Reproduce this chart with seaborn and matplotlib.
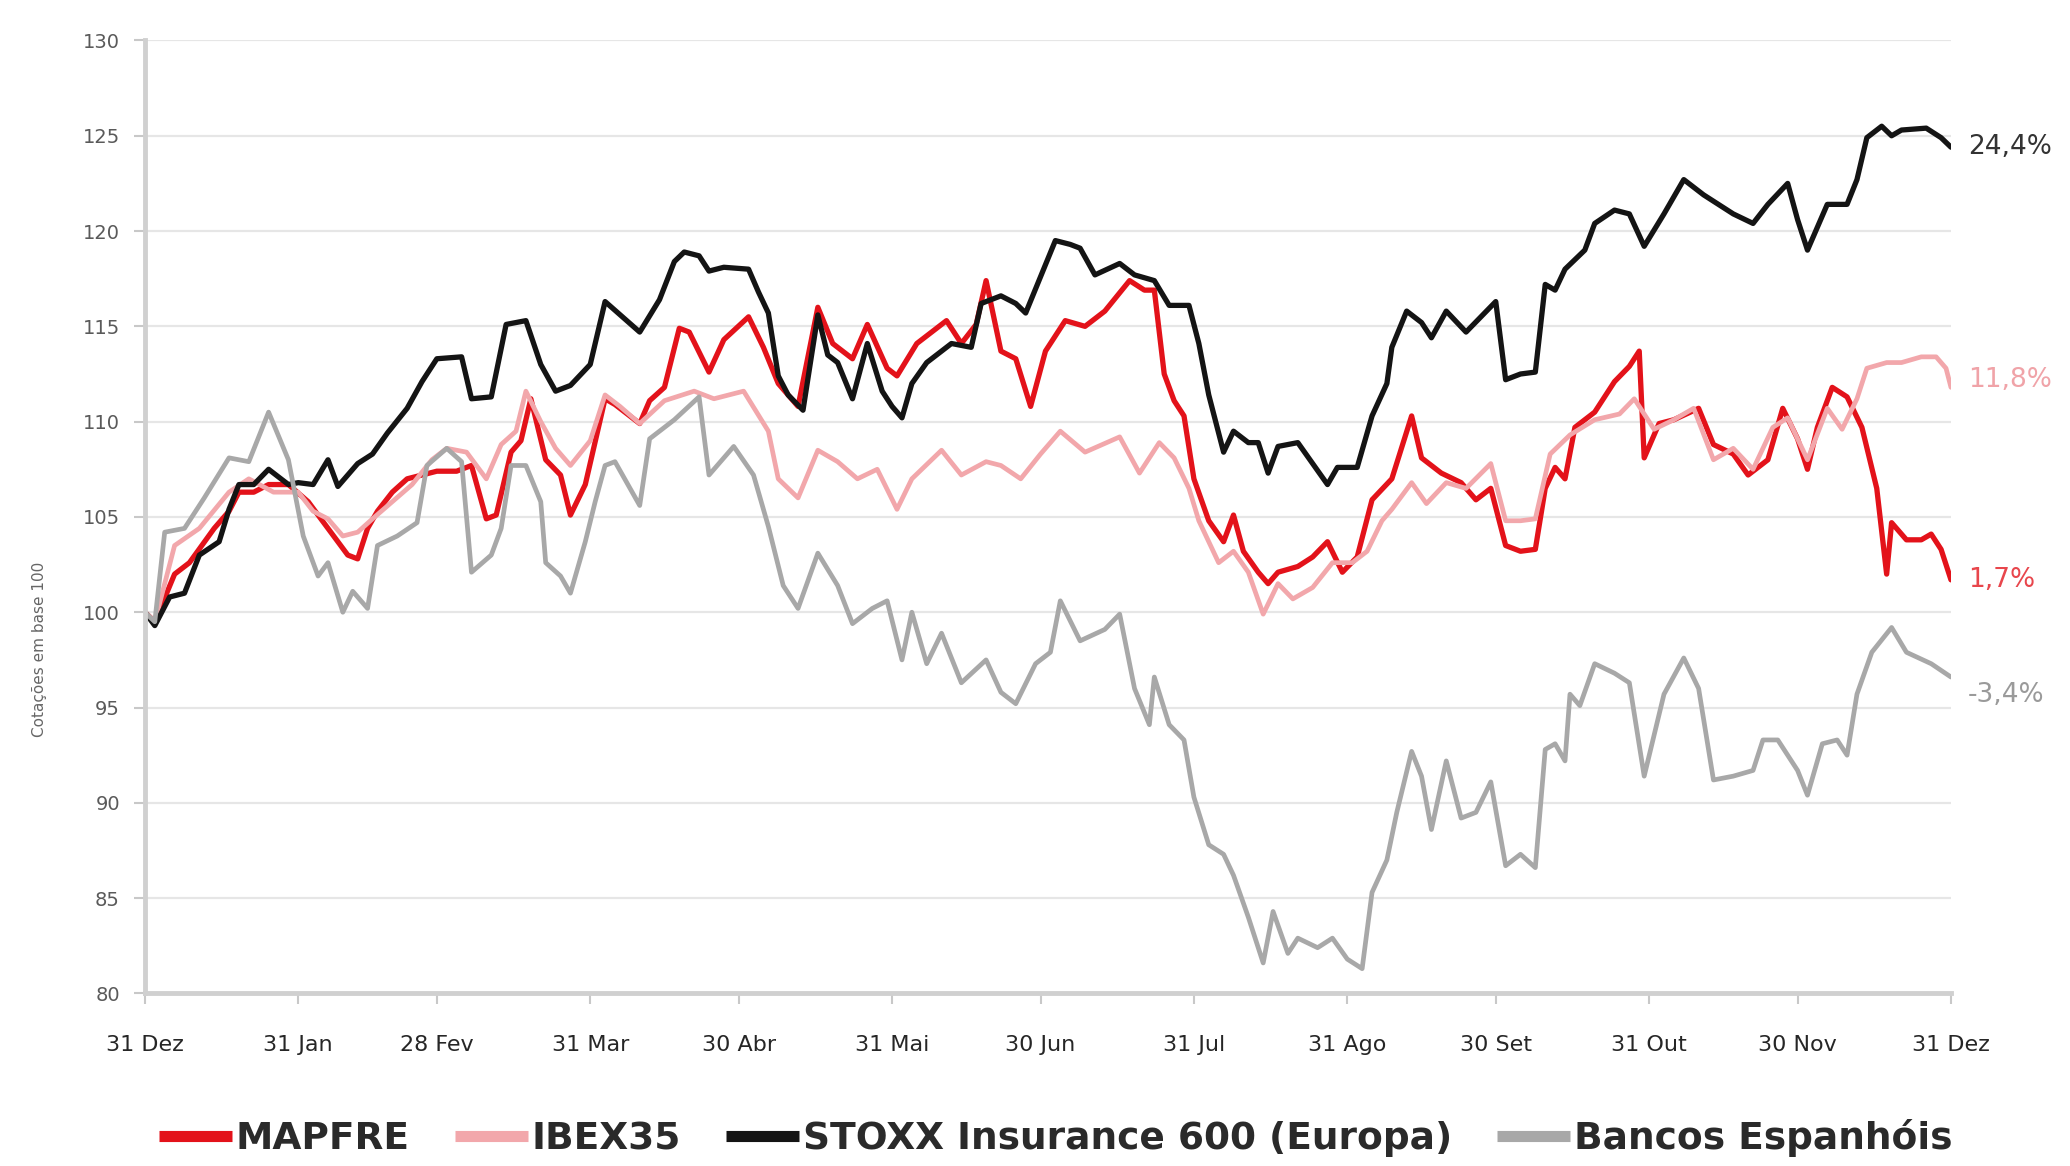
import pandas as pd
import numpy as np
import matplotlib
matplotlib.use("Agg")
import matplotlib.pyplot as plt
import seaborn as sns

# days after 31 Dec 2018, values in base 100
mapfre_days = [0, 2, 6, 9, 14, 17, 19, 22, 25, 29,
               33, 37, 41, 43, 45, 47, 50, 53, 56, 59,
               63, 66, 69, 71, 74, 76, 78, 81, 84, 86,
               89, 93, 95, 100, 102, 105, 108, 110, 114, 117,
               122, 125, 128, 132, 136, 139, 143, 146, 150, 152,
               156, 159, 162, 165, 168, 170, 173, 176, 179, 182,
               186, 190, 194, 199, 202, 204, 206, 208, 210, 212,
               215, 218, 220, 222, 225, 227, 229, 233, 236, 239,
               242, 245, 248, 252, 256, 258, 262, 266, 269, 272,
               275, 278, 281, 283, 285, 287, 289, 293, 297, 300,
               302, 303, 306, 309, 314, 317, 321, 324, 328, 331,
               334, 336, 338, 341, 344, 347, 350, 352, 353, 356,
               359, 361, 363, 365]
mapfre_vals = [100, 99.5, 102, 102.6, 104.4, 105.3, 106.3, 106.3, 106.7, 106.7,
               105.8, 104.4, 103, 102.8, 104.4, 105.3, 106.3, 107, 107.2, 107.4,
               107.4, 107.7, 104.9, 105.1, 108.4, 109, 111.2, 108, 107.2, 105.1,
               106.7, 111.2, 110.9, 109.9, 111.1, 111.8, 114.9, 114.7, 112.6, 114.3,
               115.5, 113.9, 112, 110.8, 116, 114.1, 113.3, 115.1, 112.8, 112.4,
               114.1, 114.7, 115.3, 114.1, 115.1, 117.4, 113.7, 113.3, 110.8, 113.7,
               115.3, 115, 115.8, 117.4, 116.9, 116.9, 112.5, 111.1, 110.3, 107,
               104.8, 103.7, 105.1, 103.2, 102.1, 101.5, 102.1, 102.4, 102.9, 103.7,
               102.1, 102.9, 105.9, 107, 110.3, 108.1, 107.3, 106.8, 105.9, 106.5,
               103.5, 103.2, 103.3, 106.5, 107.6, 107, 109.7, 110.5, 112.1, 112.9,
               113.7, 108.1, 109.9, 110.1, 110.7, 108.8, 108.3, 107.2, 108, 110.7,
               109.1, 107.5, 109.7, 111.8, 111.3, 109.7, 106.5, 102, 104.7, 103.8,
               103.8, 104.1, 103.3, 101.7]

ibex_days = [0, 2, 6, 11, 17, 21, 26, 31, 34, 37,
             40, 43, 46, 50, 54, 58, 61, 65, 69, 72,
             75, 77, 80, 83, 86, 90, 93, 96, 100, 105,
             111, 115, 121, 126, 128, 132, 136, 140, 144, 148,
             152, 155, 161, 165, 170, 173, 177, 181, 185, 190,
             197, 201, 205, 208, 211, 213, 217, 220, 223, 226,
             229, 232, 236, 240, 244, 247, 250, 252, 256, 259,
             263, 267, 272, 275, 278, 281, 284, 288, 293, 298,
             301, 305, 309, 313, 317, 321, 325, 329, 332, 336,
             340, 343, 346, 348, 352, 355, 359, 362, 364, 365]
ibex_vals = [100, 99.5, 103.5, 104.4, 106.3, 107, 106.3, 106.3, 105.3, 104.9,
             104, 104.2, 104.9, 105.8, 106.7, 108, 108.6, 108.4, 107, 108.8,
             109.5, 111.6, 110, 108.6, 107.7, 109, 111.4, 110.8, 109.9, 111.1,
             111.6, 111.2, 111.6, 109.5, 107, 106, 108.5, 107.9, 107, 107.5,
             105.4, 107, 108.5, 107.2, 107.9, 107.7, 107, 108.3, 109.5, 108.4,
             109.2, 107.3, 108.9, 108.1, 106.5, 104.8, 102.6, 103.2, 102.1, 99.9,
             101.5, 100.7, 101.3, 102.6, 102.6, 103.2, 104.8, 105.4, 106.8, 105.7,
             106.8, 106.5, 107.8, 104.8, 104.8, 104.9, 108.3, 109.3, 110.1, 110.4,
             111.2, 109.6, 110.1, 110.7, 108, 108.6, 107.5, 109.7, 110.2, 108,
             110.7, 109.6, 111.2, 112.8, 113.1, 113.1, 113.4, 113.4, 112.8, 111.8]

stoxx_days = [0, 2, 5, 8, 11, 15, 17, 19, 22, 25,
              29, 31, 34, 37, 39, 43, 46, 49, 53, 56,
              59, 64, 66, 70, 73, 77, 80, 83, 86, 90,
              93, 100, 104, 107, 109, 112, 114, 117, 122, 124,
              126, 128, 130, 133, 136, 138, 140, 143, 146, 149,
              151, 153, 155, 158, 161, 163, 167, 169, 173, 176,
              178, 181, 184, 187, 189, 192, 197, 200, 204, 207,
              211, 213, 215, 218, 220, 223, 225, 227, 229, 233,
              236, 239, 241, 245, 248, 251, 252, 255, 258, 260,
              263, 267, 270, 273, 275, 278, 281, 283, 285, 287,
              291, 293, 297, 300, 303, 307, 311, 315, 318, 321,
              325, 328, 332, 334, 336, 340, 344, 346, 348, 351,
              353, 355, 360, 363, 365]
stoxx_vals = [100, 99.3, 100.8, 101, 103, 103.7, 105.4, 106.7, 106.7, 107.5,
              106.7, 106.8, 106.7, 108, 106.6, 107.8, 108.3, 109.4, 110.7, 112.1,
              113.3, 113.4, 111.2, 111.3, 115.1, 115.3, 113, 111.6, 111.9, 113,
              116.3, 114.7, 116.4, 118.4, 118.9, 118.7, 117.9, 118.1, 118, 116.8,
              115.7, 112.4, 111.4, 110.6, 115.6, 113.5, 113.1, 111.2, 114.1, 111.6,
              110.8, 110.2, 112, 113.1, 113.7, 114.1, 113.9, 116.2, 116.6, 116.2,
              115.7, 117.6, 119.5, 119.3, 119.1, 117.7, 118.3, 117.7, 117.4, 116.1,
              116.1, 114.1, 111.4, 108.4, 109.5, 108.9, 108.9, 107.3, 108.7, 108.9,
              107.8, 106.7, 107.6, 107.6, 110.3, 112, 113.9, 115.8, 115.2, 114.4,
              115.8, 114.7, 115.5, 116.3, 112.2, 112.5, 112.6, 117.2, 116.9, 118,
              119, 120.4, 121.1, 120.9, 119.2, 120.9, 122.7, 121.9, 121.4, 120.9,
              120.4, 121.4, 122.5, 120.6, 119, 121.4, 121.4, 122.7, 124.9, 125.5,
              125, 125.3, 125.4, 124.9, 124.4]

bancos_days = [0, 2, 4, 8, 12, 17, 21, 25, 29, 32,
               35, 37, 40, 42, 45, 47, 51, 55, 57, 61,
               64, 66, 70, 72, 74, 77, 80, 81, 84, 86,
               89, 91, 93, 95, 100, 102, 107, 112, 114, 119,
               123, 126, 129, 132, 136, 140, 143, 147, 150, 153,
               155, 158, 161, 165, 170, 173, 176, 180, 183, 185,
               189, 194, 197, 200, 203, 204, 207, 210, 212, 215,
               218, 220, 223, 226, 228, 231, 233, 237, 240, 243,
               246, 248, 251, 253, 256, 258, 260, 263, 266, 269,
               272, 275, 278, 281, 283, 285, 287, 288, 290, 293,
               297, 300, 303, 307, 311, 314, 317, 321, 325, 327,
               330, 334, 336, 339, 342, 344, 346, 349, 353, 356,
               361, 365]
bancos_vals = [100, 99.5, 104.2, 104.4, 106, 108.1, 107.9, 110.5, 108, 104,
               101.9, 102.6, 100, 101.1, 100.2, 103.5, 104, 104.7, 107.7, 108.6,
               107.9, 102.1, 103, 104.4, 107.7, 107.7, 105.8, 102.6, 101.9, 101,
               103.7, 105.8, 107.7, 107.9, 105.6, 109.1, 110.1, 111.3, 107.2, 108.7,
               107.2, 104.5, 101.4, 100.2, 103.1, 101.4, 99.4, 100.2, 100.6, 97.5,
               100, 97.3, 98.9, 96.3, 97.5, 95.8, 95.2, 97.3, 97.9, 100.6,
               98.5, 99.1, 99.9, 96, 94.1, 96.6, 94.1, 93.3, 90.3, 87.8,
               87.3, 86.2, 84, 81.6, 84.3, 82.1, 82.9, 82.4, 82.9, 81.8,
               81.3, 85.3, 87, 89.5, 92.7, 91.4, 88.6, 92.2, 89.2, 89.5,
               91.1, 86.7, 87.3, 86.6, 92.8, 93.1, 92.2, 95.7, 95.1, 97.3,
               96.8, 96.3, 91.4, 95.7, 97.6, 96, 91.2, 91.4, 91.7, 93.3,
               93.3, 91.7, 90.4, 93.1, 93.3, 92.5, 95.7, 97.9, 99.2, 97.9,
               97.3, 96.6]

series_names = ["MAPFRE", "IBEX35", "STOXX Insurance 600 (Europa)", "Bancos Espanhóis"]
line_colors = ["#e3121a", "#f2a7ab", "#141414", "#a8a8a8"]
line_widths = [3.8, 3.4, 3.8, 3.4]
end_label_colors = ["#e8464c", "#f0a3a8", "#333333", "#9a9a9a"]
tick_labels = ["31 Dez", "31 Jan", "28 Fev", "31 Mar", "30 Abr", "31 Mai", "30 Jun",
               "31 Jul", "31 Ago", "30 Set", "31 Out", "30 Nov", "31 Dez"]

start = pd.Timestamp("2018-12-31")
all_days = [mapfre_days, ibex_days, stoxx_days, bancos_days]
all_vals = [mapfre_vals, ibex_vals, stoxx_vals, bancos_vals]

sns.set_theme(style="white")
plt.rcParams["font.family"] = ["DejaVu Sans"]

fig = plt.figure(figsize=(20.7, 11.66), dpi=100)
ax = fig.add_axes([0.070, 0.148, 0.8725, 0.8173])

for name, days, vals, col, lw in zip(series_names, all_days, all_vals,
                                     line_colors, line_widths):
    df = pd.DataFrame({"date": start + pd.to_timedelta(days, unit="D"), "value": vals})
    sns.lineplot(data=df, x="date", y="value", color=col, linewidth=lw,
                 label=name, estimator=None, ax=ax)

ax.set_ylim(80, 130)
ax.set_yticks(np.arange(80, 131, 5))
tick_dates = [start + pd.offsets.MonthEnd(i) for i in range(13)]
ax.set_xlim(tick_dates[0], tick_dates[-1])
ax.set_xticks(tick_dates)
ax.set_xticklabels(tick_labels)
ax.set_xlabel("")
ax.set_ylabel("")

ax.yaxis.grid(True, color="#e6e6e6", linewidth=1.6)
ax.set_axisbelow(True)
for s in ["top", "right"]:
    ax.spines[s].set_visible(False)
for s in ["left", "bottom"]:
    ax.spines[s].set_color("#d0d0d0")
    ax.spines[s].set_linewidth(3.5)

ax.tick_params(axis="y", length=8, width=1.5, color="#c8c8c8", pad=10,
               labelsize=14, labelcolor="#5a5a5a", left=True)
ax.tick_params(axis="x", length=8, width=1.5, color="#c8c8c8", pad=22,
               labelsize=16, labelcolor="#262626", bottom=True)

fig.text(0.019, 0.443, "Cotações em base 100", rotation=90, ha="center",
         va="center", fontsize=11, color="#666666")

# end-of-year variation labels
label_offsets = [0, 5, 0, -13]
for days, vals, col, off in zip(all_days, all_vals, end_label_colors, label_offsets):
    last = vals[-1]
    txt = f"{last - 100:.1f}%".replace(".", ",")
    ax.annotate(txt, xy=(start + pd.Timedelta(days=days[-1]), last),
                xytext=(12, off), textcoords="offset points", ha="left",
                va="center", fontsize=19, color=col, annotation_clip=False)

handles, labels = ax.get_legend_handles_labels()
ax.get_legend().remove()
leg = fig.legend(handles, labels, loc="center", bbox_to_anchor=(0.51, 0.024),
                 ncol=4, frameon=False, prop={"weight": "bold", "size": 27},
                 handlelength=1.95, handletextpad=0.1, columnspacing=1.2,
                 labelcolor="#2a2a2a")
for h in leg.legend_handles:
    h.set_linewidth(8)
    h.set_solid_capstyle("butt")

fig.savefig("out.png", dpi=100)
plt.close()
